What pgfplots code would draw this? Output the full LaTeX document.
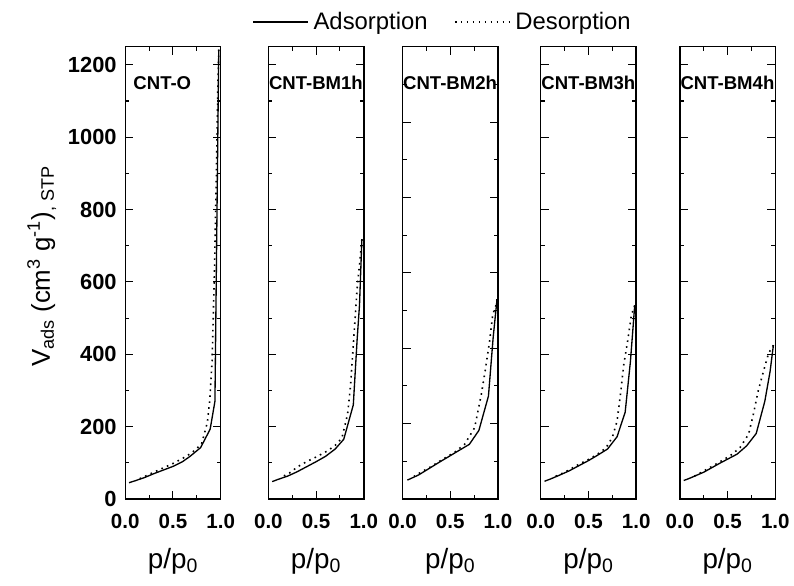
\documentclass[border=0pt]{standalone}
\usepackage{fontspec}
\setmainfont{Liberation Sans}
\usepackage{pgfplots}
\pgfplotsset{compat=1.18}
\begin{document}
\begin{tikzpicture}
\path (0pt,0pt) rectangle (595.5pt,441.75pt);
\pgfplotsset{
  panel/.style={
    anchor=south west,
    scale only axis, width=72pt, height=341.25pt,
    xmin=0, xmax=1, ymin=0,
    xtick={0,0.5,1}, minor x tick num=1,
    ytick={0,200,...,1200}, minor y tick num=1,
    tick align=inside,
    major tick length=6pt, minor tick length=3pt,
    axis line style={line width=1.1pt},
    every tick/.style={black, line width=0.8pt},
    /pgf/number format/assume math mode=true,
    xticklabel style={font=\fontsize{15.5pt}{18pt}\selectfont\bfseries, yshift=-8pt, /pgf/number format/.cd, fixed, fixed zerofill, precision=1},
    yticklabel style={font=\fontsize{16.5pt}{19pt}\selectfont\bfseries, xshift=-3pt, /pgf/number format/.cd, fixed, precision=0, 1000 sep={}},
    scaled ticks=false,
  },
  ads/.style={black, line width=1pt},
  des/.style={black, line width=1.2pt, dash pattern=on 1.2pt off 3.3pt},
}
% Panel 1: CNT-O
\begin{axis}[panel, at={(94.5pt,65.25pt)}, ymax=1250,
  legend columns=2,
  legend style={at={(3.33,1.055)}, anchor=center, draw=none, fill=none,
    font=\fontsize{18pt}{20pt}\selectfont,
    /tikz/column 1/.style={column sep=2pt},
    /tikz/column 2/.style={column sep=18pt},
    /tikz/column 3/.style={column sep=2pt}},
  legend image code/.code={\draw[#1] (0pt,0pt) -- (41pt,0pt);}]
\addplot[ads] coordinates {(0.04,45) (0.1,50) (0.2,59) (0.3,70) (0.4,80) (0.5,90) (0.6,103) (0.68,118) (0.79,142) (0.89,193) (0.94,270) (0.98,1242)};
\addlegendentry{Adsorption}
\addplot[des] coordinates {(0.98,1242) (0.97,1130) (0.955,900) (0.935,630) (0.91,380) (0.885,270) (0.86,211) (0.8,152) (0.7,128) (0.6,112) (0.5,98) (0.4,86) (0.3,74) (0.2,62) (0.12,52)};
\addlegendentry{Desorption}
\end{axis}
% Panel 2: CNT-BM1h
\begin{axis}[panel, at={(202.5pt,65.25pt)}, ymax=1250, yticklabels={}]
\addplot[ads] coordinates {(0.04,48) (0.1,54) (0.2,63) (0.3,75) (0.4,89) (0.5,103) (0.6,118) (0.7,138) (0.79,165) (0.89,260) (0.93,440) (0.955,536) (0.98,718)};
\addplot[des] coordinates {(0.98,718) (0.965,674) (0.93,582) (0.895,445) (0.86,310) (0.83,234) (0.77,168) (0.7,148) (0.62,133) (0.5,116) (0.4,103) (0.3,88) (0.235,74) (0.15,62)};
\end{axis}
% Panel 3: CNT-BM2h
\begin{axis}[panel, at={(303.75pt,65.25pt)}, ymax=1200, yticklabels={}]
\addplot[ads] coordinates {(0.05,50) (0.17,64) (0.375,96) (0.58,127) (0.7,145) (0.8,182) (0.9,273) (0.95,430) (0.99,530)};
\addplot[des] coordinates {(0.99,530) (0.98,515) (0.945,489) (0.91,415) (0.865,339) (0.825,277) (0.755,189) (0.65,145) (0.55,125) (0.48,114) (0.4,102) (0.3,86) (0.2,72) (0.12,60)};
\end{axis}
% Panel 4: CNT-BM3h
\begin{axis}[panel, at={(408pt,65.25pt)}, ymax=1250, yticklabels={}]
\addplot[ads] coordinates {(0.04,49) (0.1,55) (0.19,65) (0.3,78) (0.4,92) (0.5,106) (0.59,120) (0.7,138) (0.8,172) (0.885,240) (0.94,380) (0.985,535)};
\addplot[des] coordinates {(0.985,535) (0.95,508) (0.91,435) (0.87,371) (0.835,288) (0.8,215) (0.75,170) (0.68,140) (0.6,125) (0.52,112) (0.38,93) (0.26,75) (0.15,62)};
\end{axis}
% Panel 5: CNT-BM4h
\begin{axis}[panel, at={(513pt,65.25pt)}, ymax=1250, yticklabels={}]
\addplot[ads] coordinates {(0.04,51) (0.1,57) (0.25,74) (0.42,99) (0.6,124) (0.7,147) (0.8,181) (0.89,270) (0.945,352) (0.98,425)};
\addplot[des] coordinates {(0.98,425) (0.93,403) (0.875,352) (0.82,298) (0.77,234) (0.72,179) (0.63,142) (0.53,120) (0.35,92) (0.145,62)};
\end{axis}
% panel names
\begin{scope}[every node/.style={anchor=base west, inner sep=0pt, font=\fontsize{14pt}{16pt}\selectfont\bfseries}]
\node at (100.5pt,374.25pt) {CNT-O};
\node at (202.8pt,374.25pt) {CNT-BM1h};
\node at (304pt,374.25pt) {CNT-BM2h};
\node at (408.3pt,374.25pt) {CNT-BM3h};
\node at (513.3pt,374.25pt) {CNT-BM4h};
\end{scope}
% x labels
\begin{scope}[every node/.style={anchor=base, inner sep=0pt, font=\fontsize{21pt}{24pt}\selectfont}]
\node at (130.5pt,12.9pt) {p/p\textsubscript{0}};
\node at (238.5pt,12.9pt) {p/p\textsubscript{0}};
\node at (339.75pt,12.9pt) {p/p\textsubscript{0}};
\node at (444pt,12.9pt) {p/p\textsubscript{0}};
\node at (549pt,12.9pt) {p/p\textsubscript{0}};
\end{scope}
% y label
\node[rotate=90, inner sep=0pt, font=\fontsize{19.5pt}{22pt}\selectfont] at (31.5pt,240.75pt) {V\textsubscript{ads} (cm\textsuperscript{3} g\textsuperscript{-1})\textsubscript{, STP}};
\end{tikzpicture}
\end{document}
